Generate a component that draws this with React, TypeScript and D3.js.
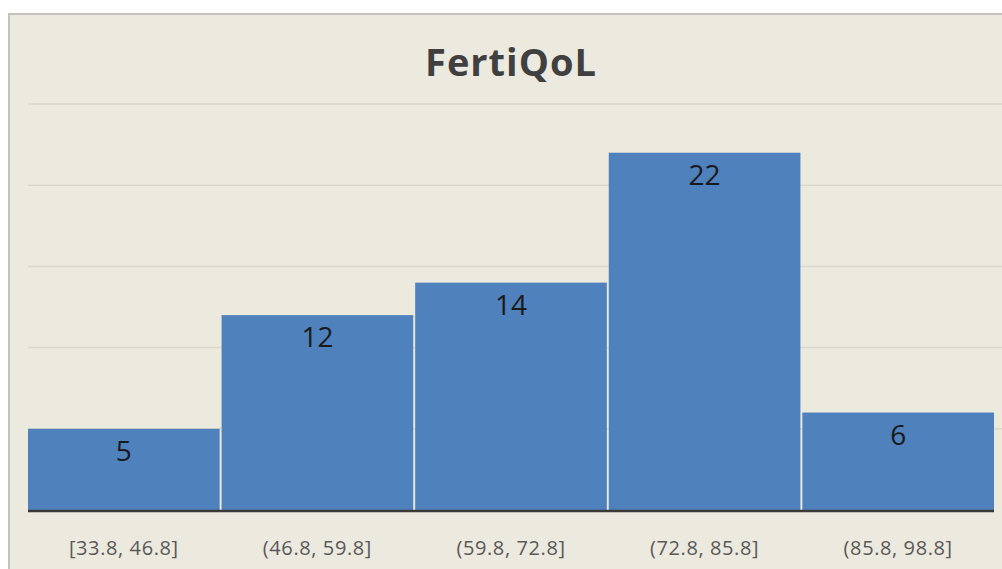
import React from "react";
import * as d3 from "d3";

const title = "FertiQoL";
const categories = ["[33.8, 46.8]", "(46.8, 59.8]", "(59.8, 72.8]", "(72.8, 85.8]", "(85.8, 98.8]"];
const counts = [5, 12, 14, 22, 6];
const gridTicks = [5, 10, 15, 20, 25];

const W = 1002;
const H = 569;
const plot = { left: 28, right: 994, top: 104, bottom: 510 };

export default function App() {
  const x = d3.scaleBand<string>().domain(categories).range([plot.left, plot.right]).paddingInner(0.01).paddingOuter(0);
  const y = d3.scaleLinear().domain([0, 25]).range([plot.bottom, plot.top]);
  const font = "'Open Sans', 'Liberation Sans', sans-serif";
  return (
    <svg width={W} height={H} style={{ position: "absolute", left: 0, top: 0, background: "#fff" }}>
      <rect x={9} y={14} width={W + 10} height={H + 10} fill="#ECE9DF" stroke="#C4C2BC" strokeWidth={2} />
      <text x={511} y={76} textAnchor="middle" fontFamily={font} fontWeight="bold" fontSize={38} letterSpacing={1} fill="#404040">{title}</text>
      {gridTicks.map((t) => (
        <line key={t} x1={plot.left} x2={W} y1={y(t)} y2={y(t)} stroke="#DAD7CD" strokeWidth={1.5} />
      ))}
      {categories.map((c, i) => (
        <g key={c}>
          <rect x={x(c)} y={y(counts[i])} width={x.bandwidth()} height={plot.bottom - y(counts[i])} fill="#4F81BD" />
          <text x={(x(c) as number) + x.bandwidth() / 2} y={y(counts[i]) + 32} textAnchor="middle" fontFamily={font} fontSize={28} fill="#1A1A1A">{counts[i]}</text>
          <text x={(x(c) as number) + x.bandwidth() / 2} y={555} textAnchor="middle" fontFamily={font} fontSize={20} letterSpacing={0.6} fill="#595959">{c}</text>
        </g>
      ))}
      <line x1={plot.left} x2={plot.right} y1={plot.bottom + 1} y2={plot.bottom + 1} stroke="#3A3A3A" strokeWidth={2.5} />
    </svg>
  );
}
